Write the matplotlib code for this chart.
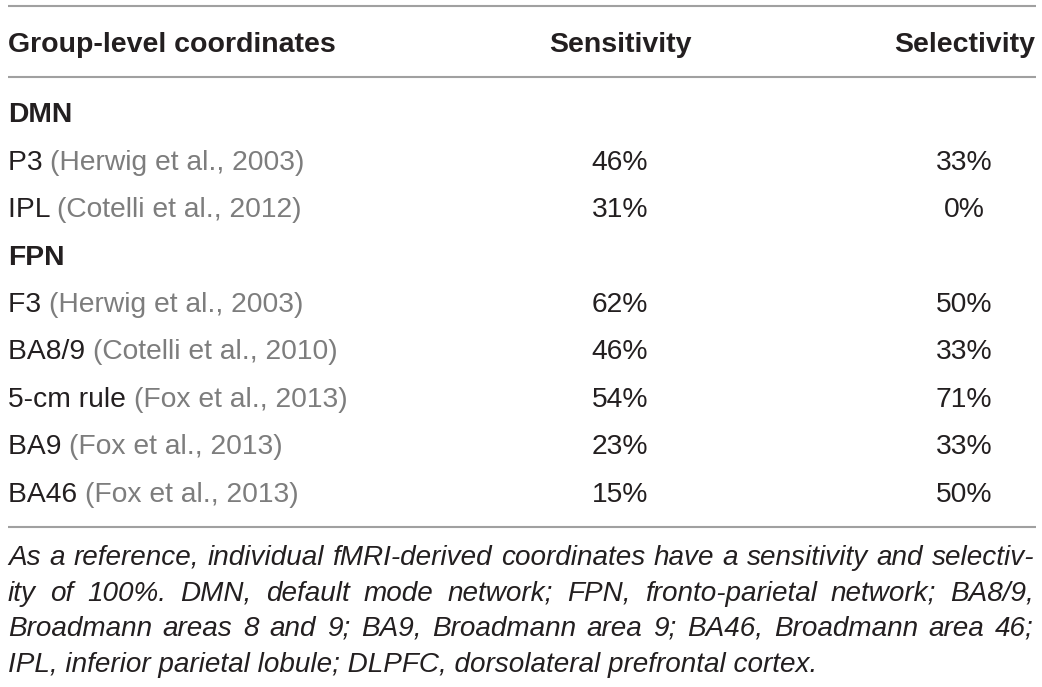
import matplotlib
matplotlib.use("Agg")
import matplotlib.pyplot as plt

# ---- data ----
header = ["Group-level coordinates", "Sensitivity", "Selectivity"]
groups = ["DMN", "FPN"]
group_rows = [["P3", "IPL"], ["F3", "BA8/9", "5-cm rule", "BA9", "BA46"]]
group_cites = [["(Herwig et al., 2003)", "(Cotelli et al., 2012)"],
               ["(Herwig et al., 2003)", "(Cotelli et al., 2010)", "(Fox et al., 2013)",
                "(Fox et al., 2013)", "(Fox et al., 2013)"]]
sensitivity = [["46%", "31%"], ["62%", "46%", "54%", "23%", "15%"]]
selectivity = [["33%", "0%"], ["50%", "33%", "71%", "33%", "50%"]]
footnote_lines = [
    "As a reference, individual fMRI-derived coordinates have a sensitivity and selectiv-",
    "ity of 100%. DMN, default mode network; FPN, fronto-parietal network; BA8/9,",
    "Broadmann areas 8 and 9; BA9, Broadmann area 9; BA46, Broadmann area 46;",
    "IPL, inferior parietal lobule; DLPFC, dorsolateral prefrontal cortex.",
]

W, H = 1042, 687
fig = plt.figure(figsize=(W / 100, H / 100), dpi=100)
ax = fig.add_axes([0, 0, 1, 1])
ax.set_xlim(0, W)
ax.set_ylim(H, 0)
ax.axis("off")

FONT = "Liberation Sans"
DARK = "#231f20"
GREY = "#7d7d7d"
LINE = "#a0a0a0"
HFS = 20.5
FS = 20.3
FFS = 20.1
XL, XR = 8, 1036
XSENS, XSEL = 620, 964


def cap(fs):
    return fs * 100 / 72 * 0.716


def put(x, yc, s, fs, **kw):
    return ax.text(x, yc + cap(fs) / 2, s, fontsize=fs, family=FONT, va="baseline", **kw)


for y in (6, 77, 527):
    ax.plot([XL, XR], [y, y], color=LINE, lw=1.5, solid_capstyle="butt")

put(XL, 42, header[0], HFS, fontweight="bold", color=DARK, ha="left")
put(XSENS, 42, header[1], HFS, fontweight="bold", color=DARK, ha="center")
put(XR - 1, 42, header[2], HFS, fontweight="bold", color=DARK, ha="right")

fig.canvas.draw()
renderer = fig.canvas.get_renderer()
inv = ax.transData.inverted()


def text_width(t):
    bb = t.get_window_extent(renderer=renderer)
    p0 = inv.transform((bb.x0, bb.y0))
    p1 = inv.transform((bb.x1, bb.y0))
    return p1[0] - p0[0]


row_h = 47.4
y = 112.3
for g, rows, cites, sens, sel in zip(groups, group_rows, group_cites, sensitivity, selectivity):
    put(XL, y, g, FS, fontweight="bold", color=DARK, ha="left")
    y += row_h
    for r, c, s1, s2 in zip(rows, cites, sens, sel):
        t = put(XL, y, r + " ", FS, color=DARK, ha="left")
        w = text_width(t)
        put(XL + w, y, c, FS, color=GREY, ha="left")
        put(XSENS, y, s1, FS, color=DARK, ha="center")
        put(XSEL, y, s2, FS, color=DARK, ha="center")
        y += row_h

# justified italic footnote
fy = [555, 591, 626, 662]
for i, (line, yy) in enumerate(zip(footnote_lines, fy)):
    words = line.split(" ")
    if i == len(footnote_lines) - 1:
        put(XL, yy, line, FFS, style="italic", color=DARK, ha="left")
        continue
    texts = [put(0, yy, w, FFS, style="italic", color=DARK, ha="left") for w in words]
    widths = [text_width(t) for t in texts]
    gap = (XR - 2 - XL - sum(widths)) / (len(words) - 1)
    x = XL
    for t, w in zip(texts, widths):
        t.set_x(x)
        x += w + gap

fig.savefig("out.png", dpi=100, facecolor="white")
